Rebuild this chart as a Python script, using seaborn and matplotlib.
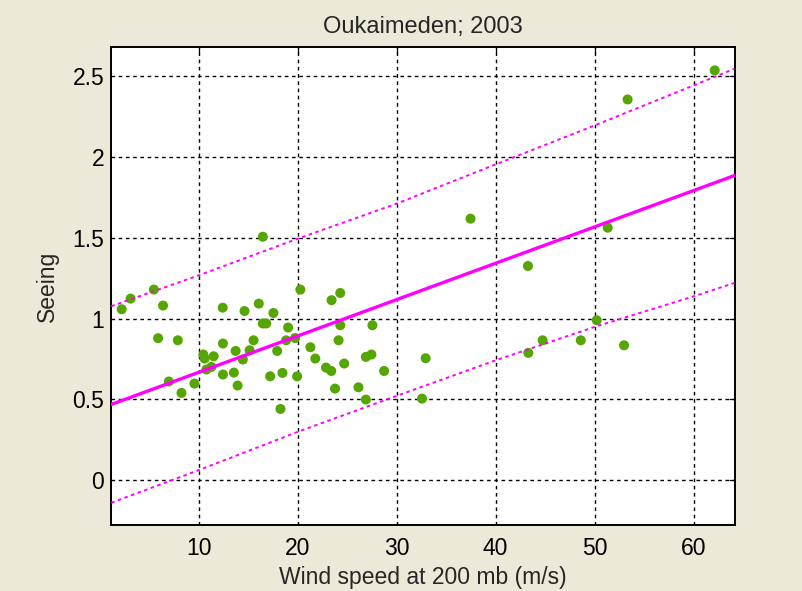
import numpy as np
import pandas as pd
import matplotlib
matplotlib.use("Agg")
import matplotlib.pyplot as plt
import seaborn as sns

# Wind speed at 200 mb (m/s) and measured seeing (arcsec), Oukaimeden 2003
wind = [2.22, 3.12, 5.47, 6.40, 5.90, 7.89, 6.98, 8.26, 9.57, 10.47,
        10.60, 11.51, 10.78, 11.28, 12.45, 12.45, 12.42, 13.55, 13.93, 13.73,
        14.46, 15.14, 15.54, 14.63, 16.07, 17.55, 16.48, 16.82, 19.03, 17.93,
        18.83, 19.74, 17.22, 18.46, 19.94, 18.26, 20.27, 21.28, 16.48, 23.42,
        24.30, 24.30, 27.55, 24.13, 21.78, 22.86, 23.39, 24.70, 26.89, 27.45,
        28.73, 23.77, 26.14, 26.89, 37.46, 51.32, 43.26, 50.21, 44.74, 48.60,
        52.97, 43.30, 32.93, 32.56, 53.33, 62.13]
seeing = [1.058, 1.124, 1.180, 1.081, 0.879, 0.866, 0.611, 0.540, 0.598, 0.778,
          0.753, 0.767, 0.685, 0.701, 0.846, 0.654, 1.068, 0.666, 0.586, 0.800,
          0.747, 0.804, 0.866, 1.047, 1.093, 1.035, 0.970, 0.970, 0.945, 0.800,
          0.866, 0.880, 0.643, 0.664, 0.643, 0.441, 1.180, 0.823, 1.507, 1.114,
          1.159, 0.959, 0.959, 0.866, 0.753, 0.697, 0.676, 0.722, 0.763, 0.778,
          0.676, 0.567, 0.575, 0.499, 1.619, 1.563, 1.326, 0.990, 0.866, 0.866,
          0.835, 0.788, 0.755, 0.505, 2.357, 2.537]

# Fitted trend and its prediction bounds
fit_wind = [1.17, 64.13]
fit_seeing = [0.469, 1.886]
bound_wind = [1.17, 10, 20, 30, 40, 50, 60, 64.13]
upper_bound = [1.077, 1.268, 1.495, 1.712, 1.955, 2.196, 2.444, 2.547]
lower_bound = [-0.140, 0.062, 0.299, 0.522, 0.742, 0.949, 1.138, 1.221]

x_ticks = [10, 20, 30, 40, 50, 60]
y_ticks = [0, 0.5, 1, 1.5, 2, 2.5]
y_tick_labels = ["0", "0.5", "1", "1.5", "2", "2.5"]
x_range = (1.17, 64.13)
y_range = (-0.28, 2.68)

points = pd.DataFrame({"wind": wind, "seeing": seeing})
trend = pd.DataFrame({"wind": fit_wind, "seeing": fit_seeing})
bounds = pd.DataFrame({"wind": bound_wind, "upper": upper_bound,
                       "lower": lower_bound})

sns.set_style("white")
plt.rcParams["font.family"] = ["Liberation Sans", "DejaVu Sans"]

bg = "#ECE9D8"
magenta = "#FF00FF"
fig = plt.figure(figsize=(8.03, 5.91), dpi=100, facecolor=bg)
ax = fig.add_axes([0.1386, 0.1110, 0.7761, 0.8090])
ax.set_facecolor("white")

grid_kw = dict(color="black", linewidth=1.0, linestyle=(0, (2.6, 2.6)), zorder=0)
for gx in x_ticks:
    ax.axvline(gx, **grid_kw)
for gy in y_ticks:
    ax.axhline(gy, **grid_kw)

sns.scatterplot(data=points, x="wind", y="seeing", ax=ax, color="#55A600",
                s=52, edgecolor="none", zorder=3, legend=False)
sns.lineplot(data=trend, x="wind", y="seeing", ax=ax, color=magenta,
             linewidth=2.4, zorder=4)
for col in ["upper", "lower"]:
    sns.lineplot(data=bounds, x="wind", y=col, ax=ax, color=magenta,
                 linewidth=1.4, linestyle=(0, (1.8, 1.8)), zorder=4)

ax.set_xlim(*x_range)
ax.set_ylim(*y_range)
ax.set_xticks(x_ticks)
ax.set_yticks(y_ticks)
ax.set_yticklabels(y_tick_labels)
ax.tick_params(direction="in", length=4, width=0.9, top=True, right=True,
               labelsize=16.5, colors="black")
ax.tick_params(axis="x", pad=8)
ax.tick_params(axis="y", pad=5)
for sp in ax.spines.values():
    sp.set_visible(True)
    sp.set_color("black")
    sp.set_linewidth(1.4)

ax.set_xlabel("Wind speed at 200 mb (m/s)", fontsize=16.5, labelpad=5)
ax.set_ylabel("Seeing", fontsize=16.5, labelpad=10)
ax.set_title("Oukaimeden; 2003", fontsize=17, pad=10)

fig.savefig("out.png", dpi=100, facecolor=bg)
